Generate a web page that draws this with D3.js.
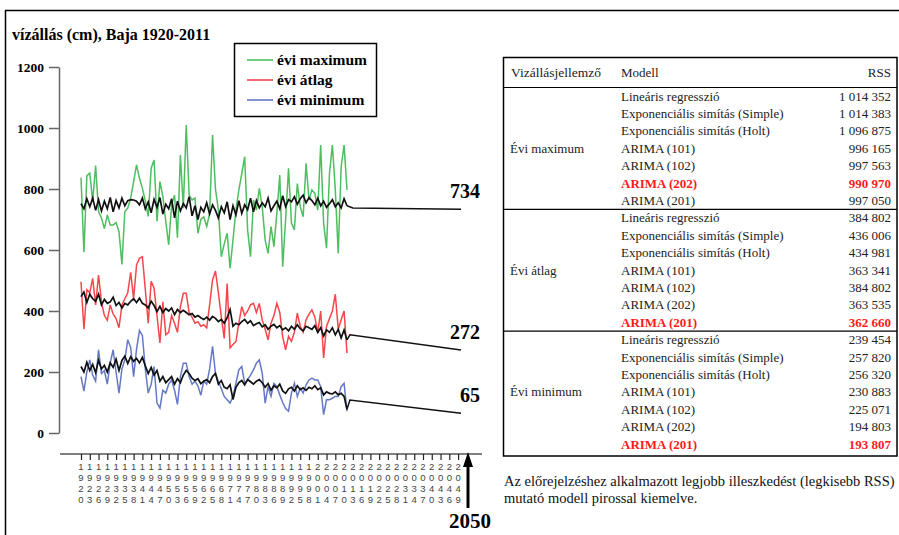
<!DOCTYPE html>
<html>
<head>
<meta charset="utf-8">
<script src="https://cdn.jsdelivr.net/npm/d3@7"></script>
<style>
body { margin: 0; background: #fff; }
svg { display: block; }
</style>
</head>
<body>
<svg id="chart" width="899" height="535"></svg>
<script>
// yearly water levels at Baja, 1920-2011 (cm)
const firstYear = 1920
const maxObs = [837, 593, 843, 852, 760, 877, 726, 705, 670, 715,
    682, 682, 690, 660, 553, 726, 737, 770, 824, 879,
    835, 803, 760, 710, 868, 895, 694, 824, 775, 694,
    617, 748, 780, 640, 911, 737, 1010, 780, 764, 770,
    655, 700, 709, 677, 720, 977, 800, 731, 578, 620,
    655, 540, 633, 731, 797, 850, 906, 666, 578, 764,
    731, 802, 742, 633, 589, 677, 611, 720, 846, 545,
    700, 868, 688, 666, 818, 742, 709, 884, 764, 797,
    786, 731, 944, 688, 606, 851, 944, 797, 589, 873,
    944, 797]
const maxFit = [752, 735, 768, 742, 770, 730, 765, 728, 760, 735,
    772, 725, 762, 738, 770, 745, 762, 765, 764, 760,
    748, 770, 735, 758, 722, 766, 740, 772, 718, 750,
    735, 768, 705, 760, 728, 752, 738, 775, 712, 745,
    700, 740, 725, 755, 718, 748, 730, 705, 742, 722,
    758, 700, 745, 715, 762, 720, 748, 732, 770, 725,
    762, 738, 755, 742, 770, 728, 745, 760, 735, 778,
    742, 765, 758, 775, 750, 768, 780, 755, 772, 762,
    748, 770, 745, 760, 740, 752, 765, 742, 755, 738,
    768, 745]
const meanObs = [496, 340, 470, 460, 507, 420, 518, 430, 385, 370,
    420, 390, 375, 345, 420, 440, 460, 527, 440, 551,
    573, 578, 470, 360, 497, 475, 385, 295, 430, 322,
    330, 385, 360, 330, 414, 458, 458, 395, 380, 360,
    365, 350, 355, 345, 420, 502, 531, 460, 380, 310,
    490, 279, 290, 300, 360, 414, 385, 400, 420, 425,
    395, 425, 370, 340, 305, 360, 385, 425, 395, 315,
    273, 317, 300, 330, 393, 350, 330, 371, 390, 404,
    380, 330, 400, 246, 350, 375, 400, 455, 340, 371,
    400, 262]
const meanFit = [447, 462, 428, 455, 440, 432, 455, 420, 438, 425,
    430, 445, 418, 428, 410, 425, 420, 432, 440, 428,
    442, 425, 420, 410, 432, 418, 398, 415, 395, 408,
    400, 410, 388, 405, 395, 402, 395, 388, 392, 380,
    385, 378, 372, 380, 370, 382, 376, 365, 372, 360,
    378, 405, 350, 360, 355, 365, 372, 360, 368, 352,
    358, 362, 348, 355, 340, 350, 356, 345, 352, 338,
    345, 335, 350, 340, 355, 342, 335, 350, 345, 340,
    352, 330, 345, 318, 338, 330, 345, 322, 340, 312,
    338, 305]
const minObs = [185, 137, 200, 240, 190, 170, 273, 195, 205, 160,
    230, 273, 200, 131, 210, 240, 306, 280, 185, 275,
    336, 320, 210, 131, 160, 218, 98, 82, 140, 131,
    160, 174, 140, 94, 185, 229, 229, 185, 160, 170,
    155, 124, 170, 160, 210, 284, 196, 170, 145, 120,
    109, 98, 120, 163, 207, 218, 163, 174, 190, 207,
    229, 240, 196, 98, 152, 120, 163, 152, 125, 100,
    80, 71, 131, 163, 120, 147, 131, 158, 174, 180,
    174, 174, 152, 60, 109, 109, 114, 120, 120, 152,
    163, 71]
const minFit = [218, 200, 232, 205, 225, 198, 238, 210, 222, 200,
    230, 215, 242, 205, 238, 252, 228, 250, 235, 245,
    230, 248, 220, 195, 215, 190, 205, 170, 185, 165,
    175, 185, 160, 178, 165, 190, 205, 195, 180, 172,
    178, 162, 170, 175, 165, 185, 195, 160, 172, 150,
    145, 158, 110, 150, 165, 172, 158, 175, 168, 160,
    170, 175, 165, 150, 162, 140, 155, 148, 160, 138,
    130, 145, 150, 138, 155, 142, 148, 140, 150, 145,
    155, 142, 148, 125, 135, 130, 128, 135, 125, 130,
    120, 78]

// forecasts to 2050
const fcMaxYears = [2011, 2013, 2050]
const fcMax = [745, 738, 734]
const fcMeanYears = [2011, 2012, 2050]
const fcMean = [305, 322, 272]
const fcMinYears = [2011, 2012, 2050]
const fcMin = [78, 108, 65]

const seriesNames = ['évi maximum', 'évi átlag', 'évi minimum']
const seriesColors = ['#2fb344', '#f2262b', '#4a62bc']
const endLabels = ['734', '272', '65']
const yTicks = [0, 200, 400, 600, 800, 1000, 1200]

// RSS table
const groups = ['Évi maximum', 'Évi átlag', 'Évi minimum']
const models = ['Lineáris regresszió', 'Exponenciális simítás (Simple)', 'Exponenciális simítás (Holt)',
    'ARIMA (101)', 'ARIMA (102)', 'ARIMA (202)', 'ARIMA (201)']
const rssMax = ['1 014 352', '1 014 383', '1 096 875', '996 165', '997 563', '990 970', '997 050']
const rssMean = ['384 802', '436 006', '434 981', '363 341', '384 802', '363 535', '362 660']
const rssMin = ['239 454', '257 820', '256 320', '230 883', '225 071', '194 803', '193 807']
const bestModel = [5, 6, 6]
const note = ['Az előrejelzéshez alkalmazott legjobb illeszkedést (legkisebb RSS)', 'mutató modell pirossal kiemelve.']

const serif = "'Liberation Serif', 'Times New Roman', serif"
const sans = "'Liberation Sans', Arial, sans-serif"

const svg = d3.select('#chart')

svg.append('rect')
    .attr('x', 5.5).attr('y', 10.5)
    .attr('width', 920).attr('height', 560)
    .attr('fill', 'none').attr('stroke', '#000').attr('stroke-width', 1.5)

svg.append('text')
    .attr('x', 12).attr('y', 40)
    .style('font-family', serif).style('font-weight', 'bold').style('font-size', '16px')
    .text('vízállás (cm), Baja 1920-2011')

const xScale = d3.scaleLinear().domain([1920, 2050]).range([81, 461])
const yScale = d3.scaleLinear().domain([0, 1200]).range([433, 67])

// y axis
const yAxisG = svg.append('g')
    .attr('transform', 'translate(59,0)')
    .call(d3.axisLeft(yScale).tickValues(yTicks).tickFormat(d3.format('d'))
        .tickSize(10).tickPadding(5).tickSizeOuter(0))
yAxisG.select('.domain').attr('stroke', '#666').attr('stroke-width', 1.5)
yAxisG.selectAll('.tick line').attr('stroke', '#666').attr('stroke-width', 1.5)
yAxisG.selectAll('.tick text')
    .style('font-family', serif).style('font-weight', 'bold').style('font-size', '13.5px').attr('fill', '#000')

// x axis with stacked digit labels
const tickYears = d3.range(1920, 2050, 3)
svg.append('line')
    .attr('x1', 60).attr('x2', 482).attr('y1', 454).attr('y2', 454)
    .attr('stroke', '#555').attr('stroke-width', 1.5)
const xAxisG = svg.append('g')
    .attr('transform', 'translate(0,454)')
    .call(d3.axisBottom(xScale).tickValues(tickYears).tickSize(6).tickFormat(''))
xAxisG.select('.domain').remove()
xAxisG.selectAll('.tick line').attr('stroke', '#222').attr('stroke-width', 1.2)

const digitG = svg.append('g')
tickYears.forEach(yr => {
    String(yr).split('').forEach((ch, i) => {
        digitG.append('text')
            .attr('x', xScale(yr)).attr('y', 470 + i * 11)
            .attr('text-anchor', 'middle')
            .style('font-family', sans).style('font-size', '9.5px').attr('fill', '#444')
            .text(ch)
    })
})

// lines
const toPts = (vals, yrs) => vals.map((v, i) => ({ year: yrs ? yrs[i] : firstYear + i, v: v }))
const line = d3.line().x(d => xScale(d.year)).y(d => yScale(d.v))

const obs = [maxObs, meanObs, minObs]
const fits = [maxFit, meanFit, minFit]
const fcs = [[fcMaxYears, fcMax], [fcMeanYears, fcMean], [fcMinYears, fcMin]]

obs.forEach((vals, k) => {
    svg.append('path')
        .attr('d', line(toPts(vals)))
        .attr('fill', 'none').attr('stroke', seriesColors[k])
        .attr('stroke-width', 1.5).attr('stroke-opacity', 0.85)
})
fits.forEach((vals, k) => {
    svg.append('path')
        .attr('d', line(toPts(vals)))
        .attr('fill', 'none').attr('stroke', '#111').attr('stroke-width', 1.7)
})
fcs.forEach((fc, k) => {
    svg.append('path')
        .attr('d', line(toPts(fc[1], fc[0])))
        .attr('fill', 'none').attr('stroke', '#111').attr('stroke-width', 1.5)
    svg.append('text')
        .attr('x', 480).attr('y', yScale(fc[1][fc[1].length - 1]) - 11)
        .attr('text-anchor', 'end')
        .style('font-family', serif).style('font-weight', 'bold').style('font-size', '20px')
        .text(endLabels[k])
})

// arrow at 2050
const ax = xScale(2050) + 7
svg.append('line')
    .attr('x1', ax).attr('x2', ax).attr('y1', 508).attr('y2', 464)
    .attr('stroke', '#000').attr('stroke-width', 3)
svg.append('path')
    .attr('d', `M${ax - 5},467 L${ax + 5},467 L${ax},452 Z`)
    .attr('fill', '#000')
svg.append('text')
    .attr('x', ax + 2).attr('y', 528)
    .attr('text-anchor', 'middle')
    .style('font-family', serif).style('font-weight', 'bold').style('font-size', '21px')
    .text('2050')

// legend
const legend = svg.append('g')
legend.append('rect')
    .attr('x', 234.5).attr('y', 43.5).attr('width', 142).attr('height', 73)
    .attr('fill', '#fff').attr('stroke', '#000').attr('stroke-width', 1.5)
seriesNames.forEach((name, i) => {
    const ly = 60 + i * 20
    legend.append('line')
        .attr('x1', 247).attr('x2', 273).attr('y1', ly).attr('y2', ly)
        .attr('stroke', seriesColors[i]).attr('stroke-width', 1.6).attr('stroke-opacity', 0.85)
    legend.append('text')
        .attr('x', 277).attr('y', ly + 5)
        .style('font-family', serif).style('font-weight', 'bold').style('font-size', '15.5px')
        .text(name)
})

// table
const tX0 = 503.5, tX1 = 897, tTop = 57.5, headBottom = 87.5, rowH = 17.4
const table = svg.append('g').style('font-family', serif).style('font-size', '13px')
table.append('rect')
    .attr('x', tX0).attr('y', tTop).attr('width', tX1 - tX0).attr('height', 456 - tTop)
    .attr('fill', 'none').attr('stroke', '#000').attr('stroke-width', 1.5)
table.append('text').attr('x', 511).attr('y', 77).attr('fill', '#222')
    .style('font-size', '13.5px').text('Vizállásjellemző')
table.append('text').attr('x', 621).attr('y', 77).attr('fill', '#222').text('Modell')
table.append('text').attr('x', 891).attr('y', 77).attr('text-anchor', 'end').attr('fill', '#222').text('RSS')

const rssAll = [rssMax, rssMean, rssMin]
groups.forEach((g, gi) => {
    const top = headBottom + gi * rowH * 7
    table.append('line')
        .attr('x1', tX0).attr('x2', tX1).attr('y1', top).attr('y2', top)
        .attr('stroke', '#000').attr('stroke-width', 1.2)
    table.append('text')
        .attr('x', 510).attr('y', top + 13 + 3 * rowH)
        .attr('fill', '#222').text(g)
    models.forEach((m, i) => {
        const best = i === bestModel[gi]
        const by = top + 13 + i * rowH
        table.append('text')
            .attr('x', 621).attr('y', by)
            .attr('fill', best ? '#ff1a1a' : '#222')
            .style('font-weight', best ? 'bold' : 'normal')
            .text(m)
        table.append('text')
            .attr('x', 891).attr('y', by)
            .attr('text-anchor', 'end')
            .attr('fill', best ? '#ff1a1a' : '#222')
            .style('font-weight', best ? 'bold' : 'normal')
            .text(rssAll[gi][i])
    })
})

note.forEach((t, i) => {
    svg.append('text')
        .attr('x', 504).attr('y', 486 + i * 17)
        .style('font-family', serif).style('font-size', '14.5px').attr('fill', '#111')
        .text(t)
})
</script>
</body>
</html>
